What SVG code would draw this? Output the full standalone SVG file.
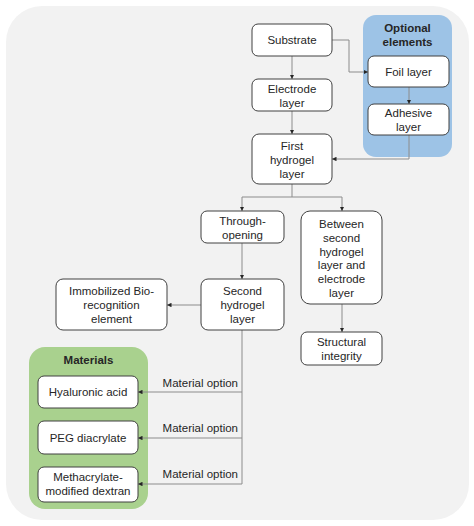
<svg xmlns="http://www.w3.org/2000/svg" width="474" height="526" viewBox="0 0 474 526">
<style>
.bg{fill:#f2f2f2;}
.node{fill:#ffffff;stroke:#404040;stroke-width:1;}
.t{font-family:"Liberation Sans",Arial,sans-serif;font-size:11.5px;fill:#262626;text-anchor:middle;}
.b{font-weight:bold;}
.lbl{font-family:"Liberation Sans",Arial,sans-serif;font-size:11.5px;fill:#262626;text-anchor:end;}
.c{fill:none;stroke:#8c8c8c;stroke-width:1;}
</style>
<defs>
<marker id="arr" viewBox="0 0 6 6" refX="6" refY="3" markerWidth="4.5" markerHeight="4.5" orient="auto" markerUnits="userSpaceOnUse">
<path d="M0,0 L6,3 L0,6 z" fill="#262626"/>
</marker>
</defs>
<rect class="bg" x="6" y="6" width="463" height="514" rx="36" ry="36"/>
<g id="optional-elements">
<rect x="363" y="15" width="89" height="142" rx="13" fill="#9dc3e6"/>
<text class="t b" x="407.5" y="32">Optional</text>
<text class="t b" x="407.5" y="46">elements</text>
</g>
<g id="materials">
<rect x="29" y="347" width="119" height="162" rx="16" fill="#a9d18e"/>
<text class="t b" x="88.5" y="364">Materials</text>
</g>
<g id="connectors">
<path class="c" d="M332,40 H349 V72 H368" marker-end="url(#arr)"/>
<path class="c" d="M292,56 V79" marker-end="url(#arr)"/>
<path class="c" d="M292,111 V134" marker-end="url(#arr)"/>
<path class="c" d="M409,87 V104" marker-end="url(#arr)"/>
<path class="c" d="M409,135 V159 H332" marker-end="url(#arr)"/>
<path class="c" d="M292,184 V197 H242 V211" marker-end="url(#arr)"/>
<path class="c" d="M292,197 H342 V211" marker-end="url(#arr)"/>
<path class="c" d="M242,243 V279" marker-end="url(#arr)"/>
<path class="c" d="M201,305 H167" marker-end="url(#arr)"/>
<path class="c" d="M342,304 V332" marker-end="url(#arr)"/>
<path class="c" d="M242,330 V484"/>
<path class="c" d="M242,392 H138" marker-end="url(#arr)"/>
<path class="c" d="M242,438 H138" marker-end="url(#arr)"/>
<path class="c" d="M242,484 H138" marker-end="url(#arr)"/>
<text class="lbl" x="238" y="387">Material option</text>
<text class="lbl" x="238" y="432">Material option</text>
<text class="lbl" x="238" y="478">Material option</text>
</g>
<g id="substrate">
<rect class="node" x="252" y="24" width="80" height="32" rx="6"/>
<text class="t" x="292" y="44">Substrate</text>
</g>
<g id="electrode-layer">
<rect class="node" x="252" y="79" width="80" height="32" rx="6"/>
<text class="t" x="292" y="93">Electrode</text>
<text class="t" x="292" y="107">layer</text>
</g>
<g id="first-hydrogel-layer">
<rect class="node" x="252" y="134" width="80" height="50" rx="7"/>
<text class="t" x="292" y="150">First</text>
<text class="t" x="292" y="164">hydrogel</text>
<text class="t" x="292" y="178">layer</text>
</g>
<g id="foil-layer">
<rect class="node" x="368" y="56" width="81" height="31" rx="6"/>
<text class="t" x="408.5" y="76">Foil layer</text>
</g>
<g id="adhesive-layer">
<rect class="node" x="368" y="104" width="81" height="31" rx="6"/>
<text class="t" x="408.5" y="117">Adhesive</text>
<text class="t" x="408.5" y="131">layer</text>
</g>
<g id="through-opening">
<rect class="node" x="201" y="211" width="83" height="32" rx="6"/>
<text class="t" x="242.5" y="225">Through-</text>
<text class="t" x="242.5" y="239">opening</text>
</g>
<g id="between">
<rect class="node" x="301" y="211" width="81" height="93" rx="9"/>
<text class="t" x="341.5" y="228">Between</text>
<text class="t" x="341.5" y="242">second</text>
<text class="t" x="341.5" y="255.5">hydrogel</text>
<text class="t" x="341.5" y="269">layer and</text>
<text class="t" x="341.5" y="283">electrode</text>
<text class="t" x="341.5" y="296.5">layer</text>
</g>
<g id="second-hydrogel-layer">
<rect class="node" x="201" y="279" width="83" height="51" rx="7"/>
<text class="t" x="242.5" y="295">Second</text>
<text class="t" x="242.5" y="309">hydrogel</text>
<text class="t" x="242.5" y="323">layer</text>
</g>
<g id="immobilized">
<rect class="node" x="56" y="279" width="111" height="51" rx="7"/>
<text class="t" x="111.5" y="295">Immobilized Bio-</text>
<text class="t" x="111.5" y="309">recognition</text>
<text class="t" x="111.5" y="323">element</text>
</g>
<g id="structural-integrity">
<rect class="node" x="301" y="332" width="81" height="33" rx="6"/>
<text class="t" x="341.5" y="346">Structural</text>
<text class="t" x="341.5" y="360">integrity</text>
</g>
<g id="hyaluronic-acid">
<rect class="node" x="38" y="376" width="100" height="32" rx="6"/>
<text class="t" x="88" y="396">Hyaluronic acid</text>
</g>
<g id="peg-diacrylate">
<rect class="node" x="38" y="421" width="100" height="33" rx="6"/>
<text class="t" x="88" y="441.5">PEG diacrylate</text>
</g>
<g id="methacrylate-dextran">
<rect class="node" x="38" y="467" width="100" height="35" rx="6"/>
<text class="t" x="88" y="481">Methacrylate-</text>
<text class="t" x="88" y="495">modified dextran</text>
</g>
</svg>
